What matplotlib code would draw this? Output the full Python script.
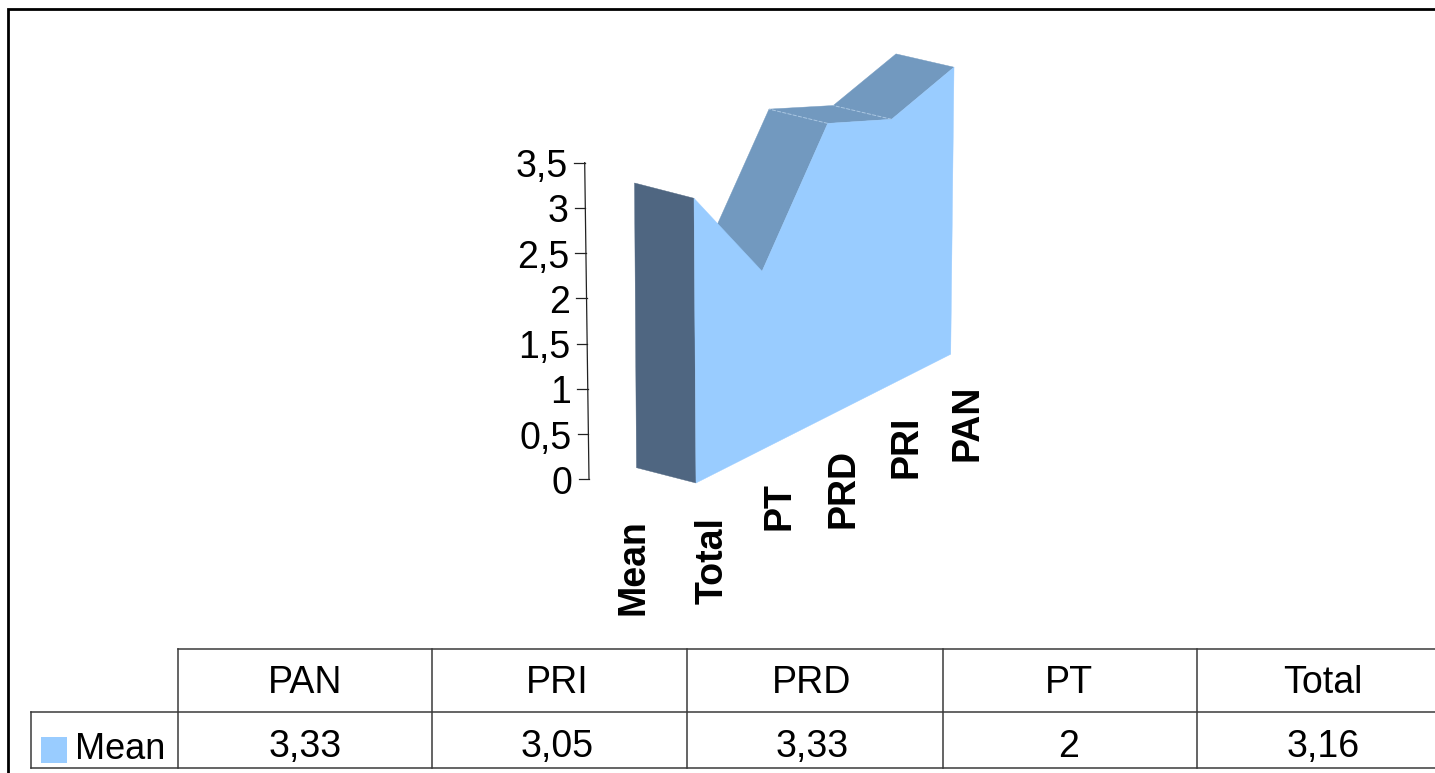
import matplotlib
matplotlib.use("Agg")
import matplotlib.pyplot as plt
import numpy as np

plt.rcParams['font.family'] = ['Liberation Sans', 'DejaVu Sans']

# ---- data ----
categories = ["PAN", "PRI", "PRD", "PT", "Total"]
mean_values = [3.33, 3.05, 3.33, 2, 3.16]
value_labels = ["3,33", "3,05", "3,33", "2", "3,16"]
series_name = "Mean"
y_ticks = [0, 0.5, 1, 1.5, 2, 2.5, 3, 3.5]
y_tick_labels = ["0", "0,5", "1", "1,5", "2", "2,5", "3", "3,5"]

FRONT = "#99CCFF"
TOP = "#7299BF"
SIDE = "#4F6681"
INK = "#000000"
TABLE_INK = "#3A3A3A"
FS = 27

W, H = 1435, 773
fig = plt.figure(figsize=(W / 100, H / 100), dpi=100, facecolor="white")
ax = fig.add_axes([0, 0, 1, 1])
ax.set_xlim(0, W)
ax.set_ylim(H, 0)
ax.axis("off")


def project(slot, value, depth=0.0):
    """Perspective projection of (category slot, value, depth) to pixel space."""
    run = 67.5 * slot / (1 + 0.015 * slot)
    t = run / 254.7
    x = 696 + run
    y = 483 - 0.5055 * run
    scale = 90.1 - 3.9 * t
    lean = -0.63 + 1.62 * t
    x += lean * value - depth * (59.5 - 1.5 * t)
    y += -scale * value - depth * (15.3 - 2.0 * t)
    return x, y


# categories run from Total (slot 0, nearest) to PAN (slot 4)
slots = [len(categories) - 1 - i for i in range(len(categories))]
order = np.argsort(slots)
s = [slots[i] for i in order]
v = [mean_values[i] for i in order]
names = [categories[i] for i in order]

# side wall at the near end
ax.fill(*zip(project(s[0], 0), project(s[0], v[0]), project(s[0], v[0], 1), project(s[0], 0, 1)),
        color=SIDE, lw=0.3, zorder=2)

# top faces that look upward
for a in range(1, len(s) - 1):
    pts = [project(s[a], v[a]), project(s[a + 1], v[a + 1]),
           project(s[a + 1], v[a + 1], 1), project(s[a], v[a], 1)]
    ax.fill(*zip(*pts), color=TOP, lw=0.3, zorder=2)
# seams between the top faces
for a in range(2, len(s) - 1):
    xs, ys = zip(project(s[a], v[a]), project(s[a], v[a], 1))
    ax.plot(xs, ys, color="#A9C6E2", lw=0.7, ls=(0, (4, 1.5)), zorder=3)

# front face
front = [project(i, val) for i, val in zip(s, v)] + [project(i, 0) for i in reversed(s)]
ax.fill(*zip(*front), color=FRONT, lw=0.3, zorder=4)


# value axis
def axis_pt(val):
    return 589 - 1.23 * val, 479.3 - 90.47 * val


ax.plot(*zip(axis_pt(y_ticks[0]), axis_pt(y_ticks[-1])), color="#222222", lw=0.9, zorder=5)
for tv, tl in zip(y_ticks, y_tick_labels):
    x, y = axis_pt(tv)
    ax.plot([x - 10.5, x], [y, y], color="#222222", lw=0.9, zorder=5)
    ax.text(x - 17, y + 14.5, tl, ha="right", va="baseline", fontsize=FS, color=INK)

# category labels under the floor edge
for i, name in zip(s, names):
    x, y = project(i, 0)
    ax.text(x - 1.5, y + 34 - i, name, rotation=90, ha="left", va="top",
            fontsize=FS, fontweight="bold", color=INK)
ax.text(616, 519, series_name, rotation=90, ha="left", va="top",
        fontsize=FS, fontweight="bold", color=INK)

# data table
col_edges = [178, 432.3, 687, 943, 1196.7]
text_centers = [305, 557, 812, 1069, 1323]
y_top, y_mid, y_bot = 649.3, 711.7, 768.3
left = 31
for yy, x0 in [(y_top, col_edges[0]), (y_mid, left), (y_bot, left)]:
    ax.plot([x0, W], [yy, yy], color=TABLE_INK, lw=1.1, zorder=5)
ax.plot([left, left], [y_mid, y_bot], color=TABLE_INK, lw=1.1, zorder=5)
for xe in col_edges:
    ax.plot([xe, xe], [y_top, y_bot], color=TABLE_INK, lw=1.1, zorder=5)
for xc, cat, lab in zip(text_centers, categories, value_labels):
    ax.text(xc, 692.7, cat, ha="center", va="baseline", fontsize=FS, color=INK)
    ax.text(xc, 757.3, lab, ha="center", va="baseline", fontsize=FS, color=INK)
ax.add_patch(plt.Rectangle((41, 737), 26, 25.7, color=FRONT, lw=0, zorder=5))
ax.text(75, 758.8, series_name, ha="left", va="baseline", fontsize=26, color=INK)

# outer frame
ax.plot([8, 8, W + 5], [H + 5, 9, 9], color="#000000", lw=2.0, zorder=6,
        solid_joinstyle="miter")

fig.savefig("out.png", dpi=100, facecolor="white")
